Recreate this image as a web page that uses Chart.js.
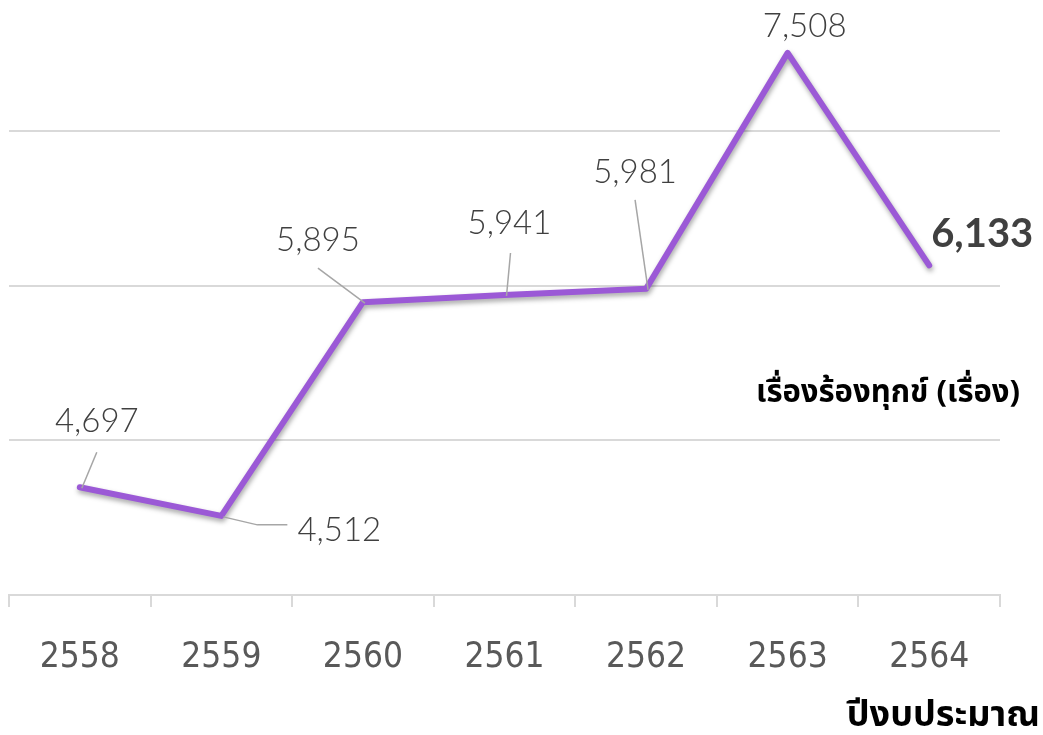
<!DOCTYPE html>
<html>
<head>
<meta charset="utf-8">
<script src="https://cdn.jsdelivr.net/npm/chart.js@4"></script>
<style>
  html, body { margin: 0; padding: 0; background: #fff; }
  #wrap { width: 1043px; height: 735px; }
</style>
</head>
<body>
<div id="wrap"><canvas id="chart"></canvas></div>
<script>
// ปีงบประมาณ
const years = ["2558", "2559", "2560", "2561", "2562", "2563", "2564"];
// เรื่องร้องทุกข์ (เรื่อง)
const complaints = [4697, 4512, 5895, 5941, 5981, 7508, 6133];
const seriesName = "เรื่องร้องทุกข์ (เรื่อง)";
const axisTitle = "ปีงบประมาณ";
const gridStep = 1000;

// label offsets relative to the point: text centre and leader line end
const labelPlacement = [
    { dx: 17, dy: -66, lx: 17, ly: -35 },
    { dx: 118, dy: 14, lx: 66, ly: 9, elbow: 36 },
    { dx: -45, dy: -62, lx: -45, ly: -34 },
    { dx: 5, dy: -72, lx: 6, ly: -42 },
    { dx: -11, dy: -116, lx: -11, ly: -89 },
    { dx: 17, dy: -26, lx: null },
    { dx: 53, dy: -31, lx: null, bold: true }
];

const fmt = v => v.toLocaleString("en-US");

// horizontal grid lines from the y scale
const gridPlugin = {
    id: "hGrid",
    beforeDatasetsDraw(chart) {
        const c = chart.ctx;
        const ys = chart.scales.y;
        const area = chart.chartArea;
        c.save();
        c.strokeStyle = "#d9d9d9";
        c.lineWidth = 2;
        for (let v = Math.ceil(ys.min / gridStep) * gridStep; v <= ys.max; v += gridStep) {
            const py = Math.round(ys.getPixelForValue(v));
            c.beginPath();
            c.moveTo(area.left, py);
            c.lineTo(area.right, py);
            c.stroke();
        }
        c.restore();
    }
};

const shadowPlugin = {
    id: "lineShadow",
    beforeDatasetDraw(chart) {
        const c = chart.ctx;
        c.save();
        c.shadowColor = "rgba(0,0,0,0.35)";
        c.shadowBlur = 5;
        c.shadowOffsetX = 1;
        c.shadowOffsetY = 3;
    },
    afterDatasetDraw(chart) {
        chart.ctx.restore();
    }
};

const labelPlugin = {
    id: "valueLabels",
    afterDatasetsDraw(chart) {
        const c = chart.ctx;
        const meta = chart.getDatasetMeta(0);
        c.save();
        meta.data.forEach((pt, i) => {
            const p = labelPlacement[i];
            const x = pt.x, y = pt.y;
            if (p.lx !== null) {
                c.strokeStyle = "#a6a6a6";
                c.lineWidth = 1.5;
                c.beginPath();
                c.moveTo(x + 2, y + 1);
                if (p.elbow) {
                    c.lineTo(x + p.elbow, y + p.ly);
                    c.lineTo(x + p.lx, y + p.ly);
                } else {
                    c.lineTo(x + p.lx, y + p.ly);
                }
                c.stroke();
            }
            c.textAlign = "center";
            c.textBaseline = "middle";
            c.fillStyle = "#404040";
            if (p.bold) {
                c.font = "bold 40px 'Lato', 'Open Sans', sans-serif";
            } else {
                c.font = "300 33px 'Lato', 'Open Sans', sans-serif";
            }
            c.fillText(fmt(complaints[i]), x + p.dx, y + p.dy);
        });

        // series name and axis title
        c.fillStyle = "#000";
        c.textBaseline = "middle";
        c.font = "bold 31px 'Noto Sans', 'Noto Sans Thai', sans-serif";
        c.textAlign = "center";
        c.fillText(seriesName, 888, 393);
        c.textAlign = "right";
        c.font = "bold 36px 'Noto Sans', 'Noto Sans Thai', sans-serif";
        c.fillText(axisTitle, chart.width - 3, 716);
        c.restore();
    }
};

const ctx = document.getElementById("chart").getContext("2d");
new Chart(ctx, {
    type: "line",
    data: {
        labels: years,
        datasets: [{
            label: seriesName,
            data: complaints,
            borderColor: "#9b59d6",
            borderWidth: 6,
            borderCapStyle: "round",
            borderJoinStyle: "round",
            pointRadius: 0,
            tension: 0,
            fill: false
        }]
    },
    options: {
        responsive: true,
        maintainAspectRatio: false,
        animation: false,
        devicePixelRatio: 1,
        layout: { padding: { left: 9, right: 43, top: 0, bottom: 26 } },
        plugins: {
            legend: { display: false },
            tooltip: { enabled: false }
        },
        scales: {
            x: {
                offset: true,
                grid: {
                    offset: true,
                    drawOnChartArea: false,
                    color: "#d9d9d9",
                    lineWidth: 2,
                    tickLength: 12
                },
                border: { color: "#d9d9d9", width: 2 },
                ticks: {
                    color: "#595959",
                    padding: 30,
                    font: { family: "'DejaVu Sans Condensed', 'Liberation Sans Narrow', 'Roboto', sans-serif", size: 35 }
                }
            },
            y: {
                display: false,
                min: 4000,
                max: 7850
            }
        }
    },
    plugins: [gridPlugin, shadowPlugin, labelPlugin]
});
</script>
</body>
</html>
